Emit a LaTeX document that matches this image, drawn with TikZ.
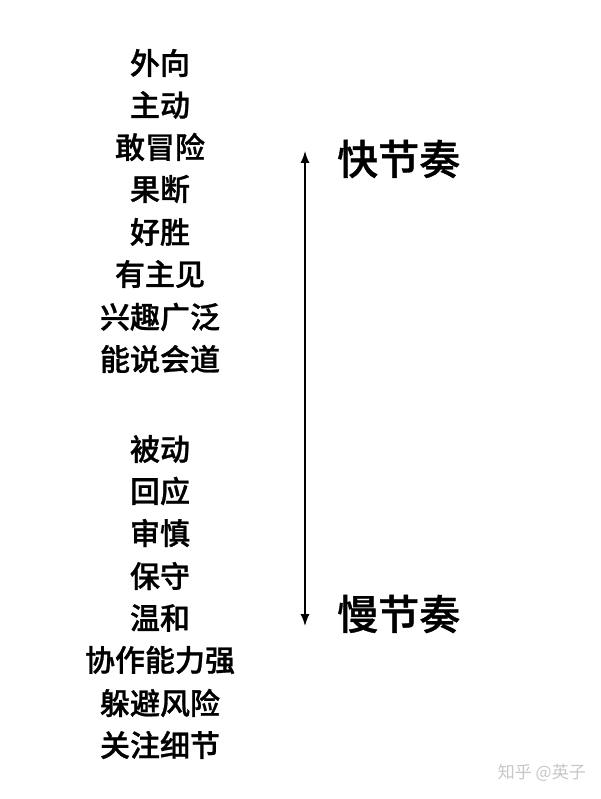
\documentclass[tikz,border=0pt]{standalone}
\usepackage{fontspec}
\newfontfamily\cjk{Noto Sans CJK SC}
\newfontfamily\cjkm[FakeBold=0.9]{Noto Sans CJK SC Medium}
\usetikzlibrary{arrows.meta}
\tikzset{
  trait/.style={font=\cjkm\fontsize{30}{30}\selectfont, text=black, inner sep=0pt, anchor=center},
  pace/.style={font=\cjkm\fontsize{41}{41}\selectfont, text=black, inner sep=0pt, anchor=west},
  wmark/.style={font=\cjk\fontsize{17}{17}\selectfont, text=black!22, inner sep=0pt, anchor=east},
  axis/.style={line width=1.4pt, {Latex[length=12pt,width=9pt]}-{Latex[length=12pt,width=9pt]}}
}
\begin{document}
\begin{tikzpicture}[x=1pt,y=-1pt]
\useasboundingbox[fill=white] (0,0) rectangle (600,799);
\node[trait] (t1) at (160,63) {外向};
\node[trait] (t2) at (160,105) {主动};
\node[trait] (t3) at (160,147) {敢冒险};
\node[trait] (t4) at (160,189) {果断};
\node[trait] (t5) at (160,232) {好胜};
\node[trait] (t6) at (160,274) {有主见};
\node[trait] (t7) at (160,317) {兴趣广泛};
\node[trait] (t8) at (160,359) {能说会道};
\node[trait] (s1) at (160,449) {被动};
\node[trait] (s2) at (160,491) {回应};
\node[trait] (s3) at (160,533) {审慎};
\node[trait] (s4) at (160,576) {保守};
\node[trait] (s5) at (160,618) {温和};
\node[trait] (s6) at (160,660) {协作能力强};
\node[trait] (s7) at (160,703) {躲避风险};
\node[trait] (s8) at (160,745) {关注细节};
\coordinate (top) at (305,151);
\coordinate (bot) at (305,626);
\draw[axis] (top) -- (bot);
\node[pace] (fast) at (337,159) {快节奏};
\node[pace] (slow) at (337,614) {慢节奏};
\node[wmark] (wm) at (586,773) {知乎 @英子};
\end{tikzpicture}
\end{document}
